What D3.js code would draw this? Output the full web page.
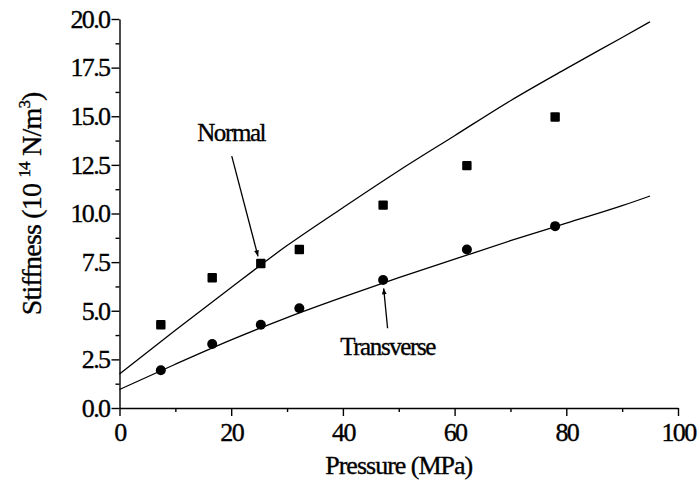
<!DOCTYPE html>
<html>
<head>
<meta charset="utf-8">
<script src="https://cdn.jsdelivr.net/npm/d3@7"></script>
<style>
  body { margin: 0; background: #fff; }
  text { font-family: "Liberation Serif", "Times New Roman", serif; fill: #000; stroke: #000; stroke-width: 0.35px; }
</style>
</head>
<body>
<div id="chart"></div>
<script>
// measured points
const pressure = [7.4, 16.6, 25.3, 32.2, 47.2, 62.2, 78.0];
const normal = [4.28, 6.70, 7.43, 8.15, 10.43, 12.46, 14.96];
const transverse = [1.94, 3.29, 4.28, 5.13, 6.58, 8.15, 9.35];

// fitted curves
const fitX = [0, 10, 20, 30, 40, 50, 60, 70, 80, 90, 95];
const normalFit = [1.75, 4.0, 6.2, 8.35, 10.3, 12.2, 14.0, 15.8, 17.45, 19.05, 19.86];
const transverseFit = [0.95, 2.25, 3.5, 4.65, 5.7, 6.7, 7.65, 8.6, 9.5, 10.4, 10.9];

const xTicks = [0, 20, 40, 60, 80, 100];
const yTicks = [0, 2.5, 5, 7.5, 10, 12.5, 15, 17.5, 20];

const W = 700, H = 484;
const margin = {left: 119.5, right: 22, top: 19, bottom: 76};

const svg = d3.select("#chart").append("svg")
    .attr("width", W)
    .attr("height", H);

const x = d3.scaleLinear().domain([0, 100]).range([margin.left, W - margin.right]);
const y = d3.scaleLinear().domain([0, 20]).range([H - margin.bottom, margin.top]);

// minor ticks first
svg.append("g")
    .attr("transform", `translate(0,${y(0)})`)
    .call(d3.axisBottom(x).tickValues(d3.range(10, 100, 20)).tickSize(4).tickFormat(""))
    .call(g => g.select(".domain").remove());
svg.append("g")
    .attr("transform", `translate(${x(0)},0)`)
    .call(d3.axisLeft(y).tickValues(d3.range(1.25, 20, 2.5)).tickSize(4).tickFormat(""))
    .call(g => g.select(".domain").remove());

const xAxis = svg.append("g")
    .attr("transform", `translate(0,${y(0)})`)
    .call(d3.axisBottom(x).tickValues(xTicks).tickSize(8).tickSizeOuter(0).tickPadding(7));
const yAxis = svg.append("g")
    .attr("transform", `translate(${x(0)},0)`)
    .call(d3.axisLeft(y).tickValues(yTicks).tickSize(8).tickSizeOuter(0).tickPadding(2)
        .tickFormat(d3.format(".1f")));

svg.selectAll(".tick line, .domain").attr("stroke", "#000").attr("stroke-width", 1.4);
[xAxis, yAxis].forEach(a => a.selectAll("text")
    .style("font-family", "'Liberation Serif', serif")
    .style("font-size", "26px")
    .style("letter-spacing", "-1.6px")
    .attr("fill", "#000"));

// axis titles
svg.append("text")
    .attr("x", (x(0) + x(100)) / 2)
    .attr("y", 474)
    .attr("text-anchor", "middle")
    .style("font-size", "26px")
    .style("letter-spacing", "-1px")
    .text("Pressure (MPa)");

const yt = svg.append("text")
    .attr("transform", `translate(41,${y(10.5)}) rotate(-90)`)
    .attr("text-anchor", "middle")
    .style("font-size", "28px")
    .style("letter-spacing", "-0.8px");
yt.append("tspan").text("Stiffness (10 ");
yt.append("tspan").attr("dy", -11).style("font-size", "17px").text("14");
yt.append("tspan").attr("dy", 11).text(" N/m");
yt.append("tspan").attr("dy", -11).style("font-size", "17px").text("3");
yt.append("tspan").attr("dy", 11).text(")");

// fit lines
const line = d3.line().x((d, i) => x(fitX[i])).y(d => y(d)).curve(d3.curveMonotoneX);
[normalFit, transverseFit].forEach(s => {
    svg.append("path")
        .datum(s)
        .attr("d", line)
        .attr("fill", "none")
        .attr("stroke", "#000")
        .attr("stroke-width", 1.3);
});

// markers
svg.append("g").selectAll("rect")
    .data(normal)
    .join("rect")
    .attr("x", (d, i) => x(pressure[i]) - 4.7)
    .attr("y", d => y(d) - 4.7)
    .attr("width", 9.4)
    .attr("height", 9.4)
    .attr("rx", 1)
    .attr("fill", "#000");

svg.append("g").selectAll("circle")
    .data(transverse)
    .join("circle")
    .attr("cx", (d, i) => x(pressure[i]))
    .attr("cy", d => y(d))
    .attr("r", 5)
    .attr("fill", "#000");

// annotations
svg.append("defs").append("marker")
    .attr("id", "head")
    .attr("viewBox", "0 0 10 10")
    .attr("refX", 10).attr("refY", 5)
    .attr("markerWidth", 12).attr("markerHeight", 6)
    .attr("markerUnits", "userSpaceOnUse")
    .attr("orient", "auto")
    .append("path")
    .attr("d", "M0,1 L10,5 L0,9 Z")
    .attr("fill", "#000");

const notes = [
    {label: "Normal", tx: 20, ty: 13.75, from: [20.1, 12.95], to: [24.8, 7.8]},
    {label: "Transverse", tx: 48, ty: 2.7, from: [48.0, 4.1], to: [47.3, 6.15]}
];
notes.forEach(n => {
    svg.append("text")
        .attr("x", x(n.tx))
        .attr("y", y(n.ty))
        .attr("text-anchor", "middle")
        .style("font-size", "25px")
        .style("letter-spacing", "-1.4px")
        .text(n.label);
    svg.append("line")
        .attr("x1", x(n.from[0])).attr("y1", y(n.from[1]))
        .attr("x2", x(n.to[0])).attr("y2", y(n.to[1]))
        .attr("stroke", "#000")
        .attr("stroke-width", 1.3)
        .attr("marker-end", "url(#head)");
});
</script>
</body>
</html>
